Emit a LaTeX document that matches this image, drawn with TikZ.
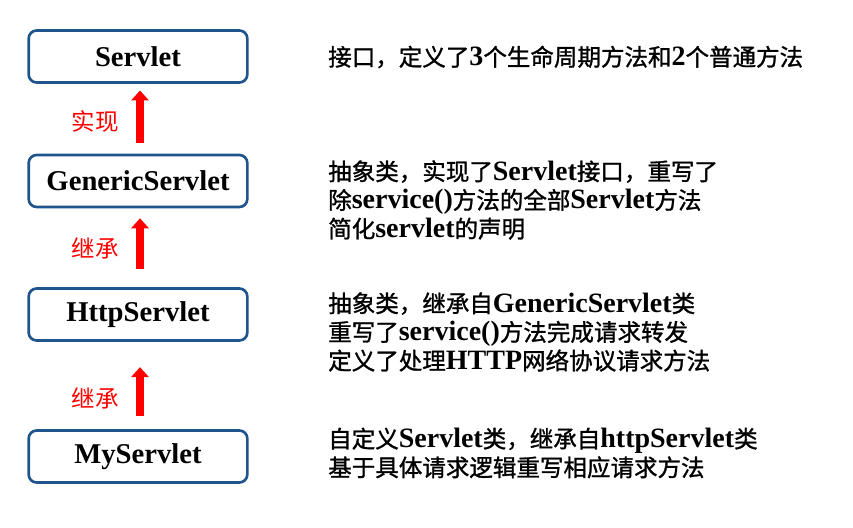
\documentclass[tikz,border=0pt]{standalone}
\usepackage{fontspec}
\setmainfont{Liberation Serif}
\newfontfamily\zhfont{Noto Sans CJK SC}[Scale=0.84]
\newfontfamily\zhbfont{Noto Sans CJK SC}[Scale=0.84, FakeBold=1.2]
\newcommand\zh{\zhbfont\mdseries}
\usetikzlibrary{arrows.meta}
\definecolor{boxblue}{RGB}{31,84,140}

\begin{document}
\begin{tikzpicture}[x=0.75pt, y=-0.75pt, >={Triangle[length=7.5pt,width=13pt]}, line join=round,
    box/.style={draw=boxblue, line width=2pt, rounded corners=6pt, fill=white,
        minimum width=164pt, minimum height=39pt, font=\fontsize{21.5}{24}\selectfont\bfseries},
    note/.style={anchor=west, align=left, inner sep=0pt, font=\fontsize{21}{21.5}\selectfont\bfseries},
    rel/.style={text=red, inner sep=0pt, font=\fontsize{21}{24}\selectfont\zhfont\mdseries},
    up/.style={->, red, line width=6pt}]
    \useasboundingbox (0,0) rectangle (853,528);

    % 左侧类层次
    \node[box] (srv)  at (138,56.5)  {Servlet};
    \node[box] (gen)  at (138,181)   {GenericServlet};
    \node[box] (http) at (138,314.5) {HttpServlet};
    \node[box] (my)   at (138,456.5) {MyServlet};

    % 关系箭头
    \draw[up, shorten <=8pt, shorten >=5pt] ([xshift=1.5pt]gen.north) -- ([xshift=1.5pt]srv.south);
    \draw[up, shorten <=14pt, shorten >=7.5pt] ([xshift=1.5pt]http.north) -- ([xshift=1.5pt]gen.south);
    \draw[up, shorten <=10pt, shorten >=19pt] ([xshift=1.5pt]my.north) -- ([xshift=1.5pt]http.south);

    \node[rel] (impl) at (95,122) {实现};
    \node[rel] (ext1) at (95,248) {继承};
    \node[rel] (ext2) at (95,398) {继承};

    % 右侧说明
    \node[note] (t1) at (328,57) {{\zh 接口，定义了}3{\zh 个生命周期方法和}2{\zh 个普通方法}};
    \node[note] (t2) at (328,200) {{\zh 抽象类，实现了}Servlet{\zh 接口，重写了}\\
        {\zh 除}service(){\zh 方法的全部}Servlet{\zh 方法}\\
        {\zh 简化}servlet{\zh 的声明}};
    \node[note] (t3) at (328,332) {{\zh 抽象类，继承自}GenericServlet{\zh 类}\\
        {\zh 重写了}service(){\zh 方法完成请求转发}\\
        {\zh 定义了处理}HTTP{\zh 网络协议请求方法}};
    \node[note] (t4) at (328,453) {{\zh 自定义}Servlet{\zh 类，继承自}httpServlet{\zh 类}\\
        {\zh 基于具体请求逻辑重写相应请求方法}};
\end{tikzpicture}
\end{document}
